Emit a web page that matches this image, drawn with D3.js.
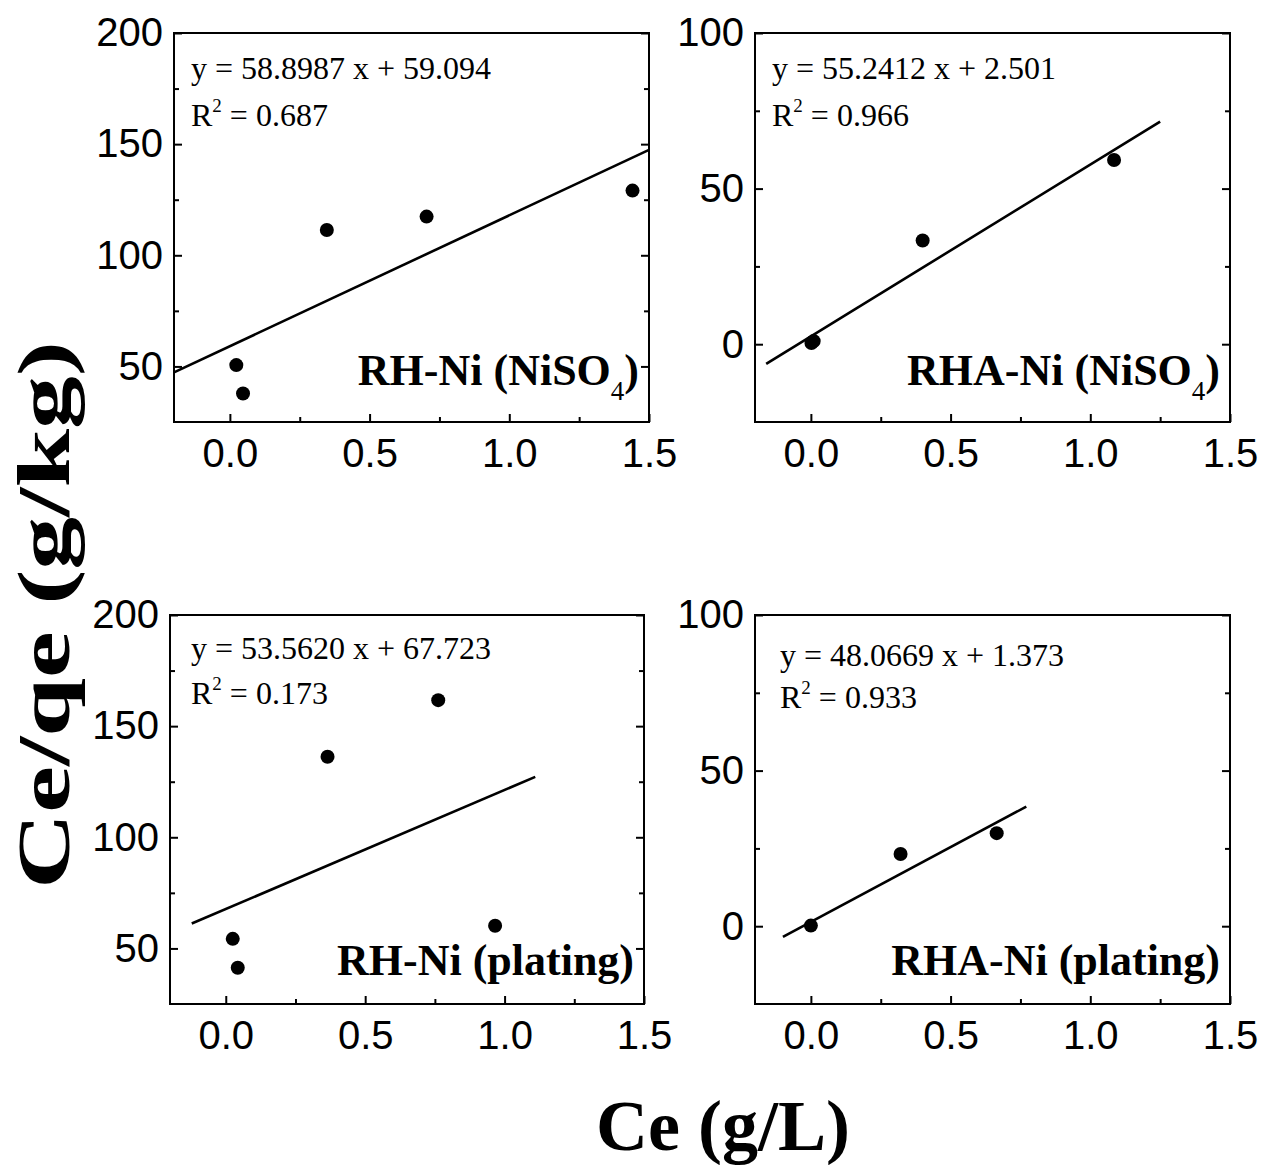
<!DOCTYPE html>
<html>
<head>
<meta charset="utf-8">
<script src="https://cdn.jsdelivr.net/npm/d3@7"></script>
<style>
  body { margin: 0; background: #fff; }
  svg text { fill: #000; }
</style>
</head>
<body>
<svg id="chart" width="1262" height="1165"></svg>
<script>
// Linearised isotherm plots: Ce/qe against Ce for four adsorbent / nickel source pairs

const panelTitles = ["RH-Ni (NiSO", "RHA-Ni (NiSO", "RH-Ni (plating)", "RHA-Ni (plating)"];
const panelSubscripts = ["4", "4", "", ""];

// measured points (Ce in g/L, Ce/qe in g/kg)
const ceRhNiso4 = [0.023, 0.047, 0.347, 0.704, 1.441];
const ratioRhNiso4 = [50.6, 37.8, 111.4, 117.4, 129.1];
const ceRhaNiso4 = [0.002, 0.010, 0.400, 1.085];
const ratioRhaNiso4 = [0.4, 1.0, 33.3, 59.2];
const ceRhPlating = [0.025, 0.043, 0.365, 0.762, 0.966];
const ratioRhPlating = [54.3, 41.3, 136.2, 161.7, 60.2];
const ceRhaPlating = [0.000, 0.321, 0.665];
const ratioRhaPlating = [0.2, 23.2, 29.9];

// linear fits
const slopes = [58.8987, 55.2412, 53.5620, 48.0669];
const intercepts = [59.094, 2.501, 67.723, 1.373];
const rSquared = [0.687, 0.966, 0.173, 0.933];
const fitRanges = [[-0.2, 1.5], [-0.16, 1.25], [-0.122, 1.11], [-0.1, 0.771]];

// axes
const xDomain = [-0.2, 1.5];
const xTicks = [0, 0.5, 1.0, 1.5];
const xMinorTicks = [0.25, 0.75, 1.25];
const yDomains = [[25, 200], [-25, 100], [25, 200], [-25, 100]];
const yTicks = [[50, 100, 150, 200], [0, 50, 100], [50, 100, 150, 200], [0, 50, 100]];
const yMinorTicks = [[75, 125, 175], [25, 75], [75, 125, 175], [25, 75]];

const xTitle = "Ce (g/L)";
const yTitle = "Ce/qe (g/kg)";

const seriesX = [ceRhNiso4, ceRhaNiso4, ceRhPlating, ceRhaPlating];
const seriesY = [ratioRhNiso4, ratioRhaNiso4, ratioRhPlating, ratioRhaPlating];

// frame of each panel and where its annotations sit
const frames = [
  { l: 174, r: 649, t: 33,  b: 422,  eqDx: 17, eqDy: 46, r2Dy: 93, labDy: 37 },
  { l: 755, r: 1230, t: 33, b: 422,  eqDx: 17, eqDy: 46, r2Dy: 93, labDy: 37 },
  { l: 170, r: 644, t: 615, b: 1004, eqDx: 21, eqDy: 44, r2Dy: 89, labDy: 29 },
  { l: 755, r: 1230, t: 615, b: 1004, eqDx: 25, eqDy: 51, r2Dy: 93, labDy: 29 }
];

const svg = d3.select("#chart");
const serif = "'Liberation Serif', 'Times New Roman', serif";
const sans = "'Liberation Sans', Arial, sans-serif";

frames.forEach((f, i) => {
  const x = d3.scaleLinear().domain(xDomain).range([f.l, f.r]);
  const y = d3.scaleLinear().domain(yDomains[i]).range([f.b, f.t]);
  const g = svg.append("g");

  const styleAxis = sel => {
    sel.select(".domain").remove();
    sel.selectAll(".tick line").attr("stroke", "#000").attr("stroke-width", 2);
    sel.selectAll(".tick text").attr("font-family", sans).attr("font-size", 40).attr("fill", "#000");
  };

  // bottom axis with labels, ticks pointing inward
  g.append("g").attr("transform", `translate(0,${f.b})`)
    .call(d3.axisBottom(x).tickValues(xTicks).tickSize(-8).tickPadding(17)
      .tickFormat(d3.format(".1f")))
    .call(styleAxis);
  g.append("g").attr("transform", `translate(0,${f.b})`)
    .call(d3.axisBottom(x).tickValues(xMinorTicks).tickSize(-5).tickFormat(""))
    .call(styleAxis);

  // left axis with labels
  g.append("g").attr("transform", `translate(${f.l},0)`)
    .call(d3.axisLeft(y).tickValues(yTicks[i]).tickSize(-8).tickPadding(11)
      .tickFormat(d3.format("d")))
    .call(styleAxis);
  g.append("g").attr("transform", `translate(${f.l},0)`)
    .call(d3.axisLeft(y).tickValues(yMinorTicks[i]).tickSize(-5).tickFormat(""))
    .call(styleAxis);

  // mirrored ticks on the right edge
  g.append("g").attr("transform", `translate(${f.r},0)`)
    .call(d3.axisRight(y).tickValues(yTicks[i]).tickSize(-8).tickFormat(""))
    .call(styleAxis);
  g.append("g").attr("transform", `translate(${f.r},0)`)
    .call(d3.axisRight(y).tickValues(yMinorTicks[i]).tickSize(-5).tickFormat(""))
    .call(styleAxis);

  // frame
  g.append("rect")
    .attr("x", f.l).attr("y", f.t)
    .attr("width", f.r - f.l).attr("height", f.b - f.t)
    .attr("fill", "none").attr("stroke", "#000").attr("stroke-width", 2);

  // fitted line
  const fit = fitRanges[i].map(c => [c, slopes[i] * c + intercepts[i]]);
  g.append("path")
    .attr("d", d3.line().x(d => x(d[0])).y(d => y(d[1]))(fit))
    .attr("fill", "none").attr("stroke", "#000").attr("stroke-width", 2.6);

  // points
  g.selectAll("circle.pt")
    .data(seriesX[i].map((c, k) => [c, seriesY[i][k]]))
    .join("circle")
    .attr("class", "pt")
    .attr("cx", d => x(d[0])).attr("cy", d => y(d[1]))
    .attr("r", 7).attr("fill", "#000");

  // regression equation
  g.append("text")
    .attr("x", f.l + f.eqDx).attr("y", f.t + f.eqDy)
    .attr("font-family", serif).attr("font-size", 32)
    .text(`y = ${slopes[i].toFixed(4)} x + ${intercepts[i].toFixed(3)}`);

  const r2Text = g.append("text")
    .attr("x", f.l + f.eqDx).attr("y", f.t + f.r2Dy)
    .attr("font-family", serif).attr("font-size", 32);
  r2Text.append("tspan").text("R");
  r2Text.append("tspan").attr("font-size", 19).attr("dy", -14).text("2");
  r2Text.append("tspan").attr("dy", 14).text(` = ${rSquared[i].toFixed(3)}`);

  // panel label
  const lab = g.append("text")
    .attr("x", f.r - 10).attr("y", f.b - f.labDy)
    .attr("text-anchor", "end")
    .attr("font-family", serif).attr("font-size", 44).attr("font-weight", "bold");
  if (panelSubscripts[i]) {
    lab.append("tspan").text(panelTitles[i]);
    lab.append("tspan").attr("font-size", 27).attr("font-weight", "normal")
      .attr("dy", 15).text(panelSubscripts[i]);
    lab.append("tspan").attr("dy", -15).text(")");
  } else {
    lab.text(panelTitles[i]);
  }
});

// shared axis titles
svg.append("text")
  .attr("x", 723).attr("y", 1150)
  .attr("text-anchor", "middle")
  .attr("font-family", serif).attr("font-size", 72).attr("font-weight", "bold")
  .text(xTitle);

svg.append("text")
  .attr("transform", "translate(69,615) rotate(-90)")
  .attr("text-anchor", "middle")
  .attr("font-family", serif).attr("font-size", 74).attr("font-weight", "bold")
  .attr("textLength", 548).attr("lengthAdjust", "spacingAndGlyphs")
  .text(yTitle);
</script>
</body>
</html>
